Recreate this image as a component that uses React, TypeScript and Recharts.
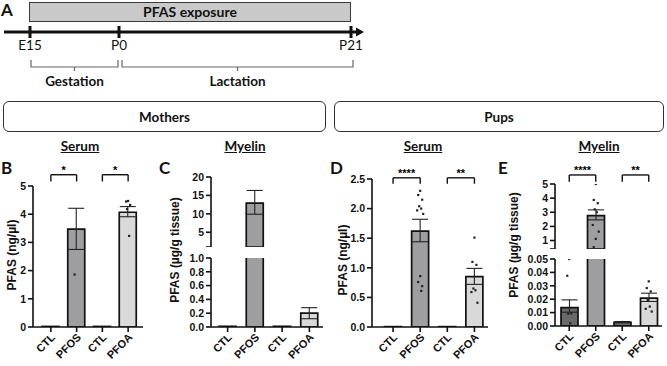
import { ComposedChart, Bar, Cell, ErrorBar, Line, XAxis, YAxis, ReferenceLine } from 'recharts'

const CATS = ['CTL1', 'PFOS', 'CTL2', 'PFOA']
const CAT_LABELS = ['CTL', 'PFOS', 'CTL', 'PFOA']
const FILLS = ['#6a6a6a', '#9e9ea0', '#6a6a6a', '#d9d9d9']
const PAIRS: [string, string][] = [['CTL1', 'PFOS'], ['CTL2', 'PFOA']]

const TIMEPOINTS = ['E15', 'P0', 'P21']
const STAGES = ['Gestation', 'Lactation']
const GROUPS = ['Mothers', 'Pups']

// B - mothers, serum (ng/µl)
const momSerumMean = [0.02, 3.47, 0.02, 4.07]
const momSerumLow = [0.02, 2.75, 0.02, 3.91]
const momSerumHigh = [0.02, 4.21, 0.02, 4.27]
const momSerumPts = [[], [5.08, 1.86], [], [4.47, 4.45, 4.33, 4.18, 3.23]]
const momSerumSig = ['*', '*']

// C - mothers, myelin (µg/g tissue)
const momMyelinMean = [0.01, 12.9, 0.01, 0.2]
const momMyelinLow = [0.01, 9.9, 0.01, 0.12]
const momMyelinHigh = [0.01, 16.35, 0.01, 0.28]
const momMyelinPts: number[][] = [[], [], [], []]

// D - pups, serum (ng/µl)
const pupSerumMean = [0.006, 1.62, 0.006, 0.85]
const pupSerumLow = [0.006, 1.44, 0.006, 0.72]
const pupSerumHigh = [0.006, 1.82, 0.006, 0.99]
const pupSerumPts = [
  [],
  [2.3, 2.23, 2.15, 2.04, 2.0, 1.97, 1.91, 0.86, 0.76, 0.69, 0.61],
  [],
  [1.51, 1.1, 1.05, 0.65, 0.62, 0.59, 0.41],
]
const pupSerumSig = ['****', '**']

// E - pups, myelin (µg/g tissue)
const pupMyelinMean = [0.0137, 2.76, 0.0028, 0.0208]
const pupMyelinLow = [0.0103, 2.46, 0.0024, 0.0183]
const pupMyelinHigh = [0.0195, 3.17, 0.0033, 0.0245]
const pupMyelinPts = [
  [0.05, 0.0375, 0.0095, 0.0091, 0.002],
  [5.0, 3.87, 3.64, 3.21, 3.0, 2.1, 1.63, 1.12, 0.53],
  [0.003],
  [0.0333, 0.0283, 0.0258, 0.0195, 0.0145, 0.0128, 0.0108],
]
const pupMyelinSig = ['****', '**']

const AX_FONT = '"Liberation Sans", Arial, sans-serif'
const TXT_FONT = 'Lato, "Open Sans", sans-serif'
const INK = '#111'
const MAX_PTS = 11
const JIT = [0, -2, 2, -1, 1, -3, 3, 0, -2, 2, 1]

function buildRows(mean: number[], low: number[], high: number[], pts: number[][], domain: [number, number]) {
  const [lo, hi] = domain
  return CATS.map((name, i) => {
    const row: Record<string, any> = { name }
    const show = lo <= 0 || mean[i] > lo
    row.mean = show ? mean[i] : null
    row.err = show && high[i] > low[i] && low[i] >= lo && high[i] <= hi
      ? [mean[i] - low[i], high[i] - mean[i]]
      : null
    const inside = pts[i].filter((p) => p >= lo && p <= hi * 1.03)
    for (let k = 0; k < MAX_PTS; k++) row[`p${k}`] = inside[k] ?? null
    return row
  })
}

const makeDot = (k: number) => (props: any) => {
  const { cx, cy, value, index } = props
  const key = `d${k}-${index}`
  if (value == null || cy == null || Number.isNaN(cy)) return <g key={key} />
  return <rect key={key} x={cx - 1.1 + JIT[k]} y={cy - 1.1} width={2.2} height={2.2} fill="#222" />
}

function XTick({ x, y, payload }: any) {
  const label = CAT_LABELS[CATS.indexOf(payload.value)]
  const ax = x + 5
  const ay = y + 4
  return (
    <text
      x={ax}
      y={ay}
      textAnchor="end"
      transform={`rotate(-45, ${ax}, ${ay})`}
      fontSize={11}
      fontWeight="bold"
      fontFamily={AX_FONT}
      fill={INK}
    >
      {label}
    </text>
  )
}

function Star({ viewBox, text }: any) {
  if (!viewBox) return null
  return (
    <text
      x={viewBox.x + viewBox.width / 2}
      y={viewBox.y - 1}
      textAnchor="middle"
      fontSize={11}
      fontWeight="bold"
      fontFamily={AX_FONT}
      fill="#000"
    >
      {text}
    </text>
  )
}

interface SegProps {
  mean: number[]; low: number[]; high: number[]; pts: number[][]
  domain: [number, number]; ticks: number[]; fmt: (v: number) => string
  left: number; top: number; width: number; height: number
  mTop: number; mRight: number; yWidth: number; padLeft: number; padRight?: number
  showX: boolean; xHeight?: number
  sig?: string[]; sigY?: [number, number]
}

function Segment(p: SegProps) {
  const rows = buildRows(p.mean, p.low, p.high, p.pts, p.domain)
  const line = { stroke: INK, strokeWidth: 1.6 }
  return (
    <div style={{ position: 'absolute', left: p.left, top: p.top }}>
      <ComposedChart
        width={p.width}
        height={p.height}
        data={rows}
        margin={{ top: p.mTop, right: p.mRight, bottom: 0, left: 0 }}
      >
        <XAxis
          dataKey="name"
          hide={!p.showX}
          height={p.xHeight ?? 39}
          padding={{ left: p.padLeft, right: p.padRight ?? 0 }}
          interval={0}
          axisLine={line}
          tickLine={line}
          tickSize={5}
          tick={<XTick />}
        />
        <YAxis
          type="number"
          domain={p.domain}
          ticks={p.ticks}
          allowDataOverflow
          interval={0}
          width={p.yWidth}
          tickFormatter={p.fmt}
          axisLine={line}
          tickLine={line}
          tickSize={5}
          tick={{ fontSize: 10.5, fontWeight: 'bold', fontFamily: AX_FONT, fill: INK }}
        />
        <Bar dataKey="mean" barSize={17} stroke={INK} strokeWidth={1.7} isAnimationActive={false}>
          {CATS.map((c, i) => (
            <Cell key={c} fill={FILLS[i]} />
          ))}
          <ErrorBar dataKey="err" width={8} stroke="#222" strokeWidth={1.1} direction="y" />
        </Bar>
        {Array.from({ length: MAX_PTS }, (_, k) => (
          <Line
            key={k}
            dataKey={`p${k}`}
            stroke="none"
            dot={makeDot(k)}
            activeDot={false}
            isAnimationActive={false}
          />
        ))}
        {p.sig && p.sigY &&
          PAIRS.map(([a, b], i) => [
            <ReferenceLine
              key={`h${i}`}
              segment={[{ x: a, y: p.sigY![0] }, { x: b, y: p.sigY![0] }]}
              stroke={INK}
              strokeWidth={1.4}
              ifOverflow="visible"
              label={<Star text={p.sig![i]} />}
            />,
            <ReferenceLine
              key={`l${i}`}
              segment={[{ x: a, y: p.sigY![0] }, { x: a, y: p.sigY![1] }]}
              stroke={INK}
              strokeWidth={1.4}
              ifOverflow="visible"
            />,
            <ReferenceLine
              key={`r${i}`}
              segment={[{ x: b, y: p.sigY![0] }, { x: b, y: p.sigY![1] }]}
              stroke={INK}
              strokeWidth={1.4}
              ifOverflow="visible"
            />,
          ])}
      </ComposedChart>
    </div>
  )
}

const int = (v: number) => String(v)
const fix1 = (v: number) => v.toFixed(1)
const fix2 = (v: number) => v.toFixed(2)

function Abs({ x, y, children, style }: { x: number; y: number; children: any; style?: any }) {
  return (
    <div style={{ position: 'absolute', left: x, top: y, whiteSpace: 'nowrap', ...style }}>{children}</div>
  )
}

function YLabel({ cx, cy, text }: { cx: number; cy: number; text: string }) {
  return (
    <div
      style={{
        position: 'absolute', left: cx, top: cy, whiteSpace: 'nowrap',
        transform: 'translate(-50%, -50%) rotate(-90deg)',
        fontFamily: AX_FONT, fontWeight: 'bold', fontSize: 12, color: INK,
      }}
    >
      {text}
    </div>
  )
}

function Title({ cx, text }: { cx: number; text: string }) {
  return (
    <div
      style={{
        position: 'absolute', left: cx, top: 138, transform: 'translateX(-50%)',
        fontFamily: TXT_FONT, fontWeight: 'bold', fontSize: 13.5, textDecoration: 'underline', color: INK,
      }}
    >
      {text}
    </div>
  )
}

const letterStyle = { fontFamily: TXT_FONT, fontWeight: 'bold', fontSize: 17, color: INK, lineHeight: 1 }

function Timeline() {
  const ticksX = [30, 119, 351]
  return (
    <svg width={667} height={95} style={{ position: 'absolute', left: 0, top: 0 }}>
      <rect x={29.5} y={2.5} width={321} height={19} fill="#c9c9c9" stroke="#3a3a3a" strokeWidth={1} />
      <text x={190} y={17} textAnchor="middle" fontFamily={TXT_FONT} fontWeight="bold" fontSize={14} fill={INK}>
        PFAS exposure
      </text>
      <line x1={4} y1={32} x2={358} y2={32} stroke={INK} strokeWidth={3} />
      <polygon points="356,27.5 364,32 356,36.5" fill={INK} />
      {ticksX.map((x, i) => (
        <g key={i}>
          <line x1={x} y1={26} x2={x} y2={38} stroke={INK} strokeWidth={3} />
          <text x={x} y={50} textAnchor="middle" fontFamily={TXT_FONT} fontSize={13.5} fill={INK}>
            {TIMEPOINTS[i]}
          </text>
        </g>
      ))}
      {[[31, 118], [122, 353]].map(([a, b], i) => {
        const m = (a + b) / 2
        return (
          <g key={i}>
            <path
              d={`M${a},60 V67 H${m} V71 M${m},67 H${b} V60`}
              fill="none" stroke="#666" strokeWidth={1.2}
            />
            <text x={m} y={86} textAnchor="middle" fontFamily={TXT_FONT} fontWeight="bold" fontSize={13.5} fill={INK}>
              {STAGES[i]}
            </text>
          </g>
        )
      })}
    </svg>
  )
}

export default function App() {
  return (
    <div style={{ position: 'absolute', left: 0, top: 0, width: 667, height: 366, background: '#fff', overflow: 'hidden' }}>
      <Timeline />
      <Abs x={1} y={1} style={letterStyle}>A</Abs>

      {GROUPS.map((g, i) => (
        <div
          key={g}
          style={{
            position: 'absolute', left: i === 0 ? 3 : 334, top: 101, width: i === 0 ? 323 : 330, height: 31,
            boxSizing: 'border-box', border: '1px solid #333', borderRadius: 6,
            display: 'flex', alignItems: 'center', justifyContent: 'center',
            fontFamily: TXT_FONT, fontWeight: 'bold', fontSize: 13.5, color: INK,
          }}
        >
          {g}
        </div>
      ))}

      <Title cx={80} text="Serum" />
      <Title cx={245} text="Myelin" />
      <Title cx={423} text="Serum" />
      <Title cx={599} text="Myelin" />

      <Abs x={1} y={159} style={letterStyle}>B</Abs>
      <Abs x={159} y={159} style={letterStyle}>C</Abs>
      <Abs x={330} y={159} style={letterStyle}>D</Abs>
      <Abs x={498} y={159} style={letterStyle}>E</Abs>

      {/* B */}
      <Segment
        mean={momSerumMean} low={momSerumLow} high={momSerumHigh} pts={momSerumPts}
        domain={[0, 5]} ticks={[0, 1, 2, 3, 4, 5]} fmt={int}
        left={0} top={150} width={150} height={216} mTop={36} mRight={7} yWidth={33}
        padLeft={5} padRight={2} showX sig={momSerumSig} sigY={[5.4, 5.16]}
      />
      <YLabel cx={12} cy={255} text="PFAS (ng/µl)" />

      {/* C */}
      <Segment
        mean={momMyelinMean} low={momMyelinLow} high={momMyelinHigh} pts={momMyelinPts}
        domain={[1, 20]} ticks={[1, 5, 10, 15, 20]} fmt={(v) => (v < 5 ? '' : String(v))}
        left={170} top={150} width={155} height={97} mTop={27} mRight={2} yWidth={41}
        padLeft={3} showX={false}
      />
      <Segment
        mean={momMyelinMean} low={momMyelinLow} high={momMyelinHigh} pts={momMyelinPts}
        domain={[0, 1]} ticks={[0, 0.2, 0.4, 0.6, 0.8, 1.0]} fmt={fix1}
        left={170} top={250} width={155} height={116} mTop={8} mRight={2} yWidth={41}
        padLeft={3} showX
      />
      <YLabel cx={175} cy={250} text="PFAS (µg/g tissue)" />

      {/* D */}
      <Segment
        mean={pupSerumMean} low={pupSerumLow} high={pupSerumHigh} pts={pupSerumPts}
        domain={[0, 2.5]} ticks={[0, 0.5, 1.0, 1.5, 2.0, 2.5]} fmt={fix1}
        left={340} top={150} width={150} height={216} mTop={29} mRight={2} yWidth={32}
        padLeft={7.5} showX sig={pupSerumSig} sigY={[2.52, 2.42]}
      />
      <YLabel cx={343} cy={260} text="PFAS (ng/µl)" />

      {/* E */}
      <Segment
        mean={pupMyelinMean} low={pupMyelinLow} high={pupMyelinHigh} pts={pupMyelinPts}
        domain={[0.4, 5]} ticks={[0.4, 1, 2, 3, 4, 5]} fmt={(v) => (v < 1 ? '' : String(v))}
        left={515} top={150} width={150} height={99} mTop={34} mRight={3} yWidth={40}
        padLeft={1} showX={false} sig={pupMyelinSig} sigY={[5.64, 5.16]}
      />
      <Segment
        mean={pupMyelinMean} low={pupMyelinLow} high={pupMyelinHigh} pts={pupMyelinPts}
        domain={[0, 0.05]} ticks={[0, 0.01, 0.02, 0.03, 0.04, 0.05]} fmt={fix2}
        left={515} top={250} width={150} height={116} mTop={9} mRight={3} yWidth={40}
        padLeft={1} showX xHeight={40}
      />
      <YLabel cx={514} cy={245} text="PFAS (µg/g tissue)" />
    </div>
  )
}
